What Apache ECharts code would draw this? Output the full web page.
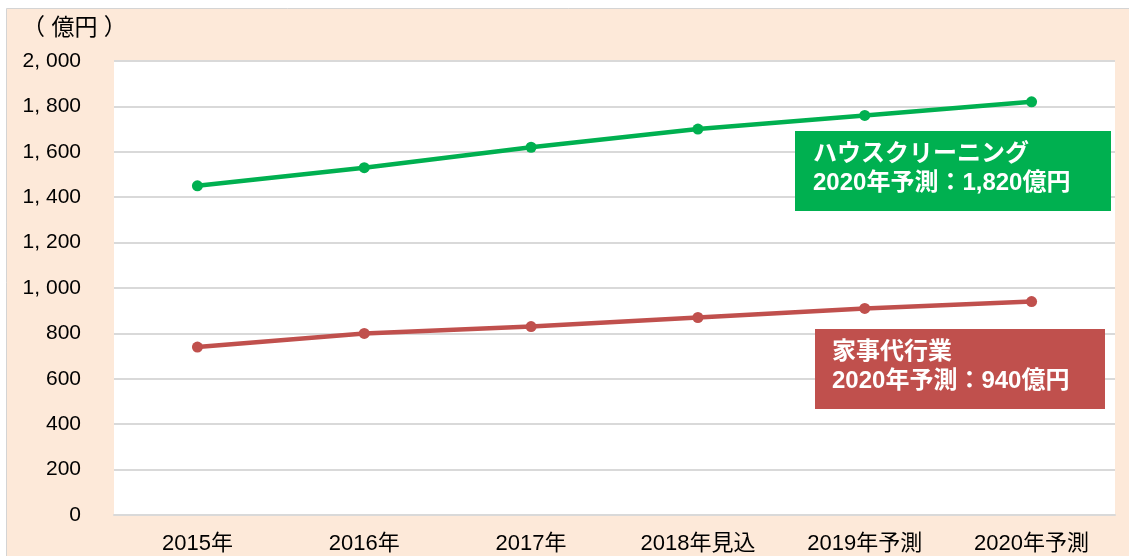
<!DOCTYPE html>
<html>
<head>
<meta charset="utf-8">
<script src="https://cdn.jsdelivr.net/npm/echarts@6/dist/echarts.min.js"></script>
<style>
html,body{margin:0;padding:0;background:#fff;}
#c{width:1129px;height:556px;}
</style>
</head>
<body>
<div id="c"></div>
<script>
const categories = ['2015年', '2016年', '2017年', '2018年見込', '2019年予測', '2020年予測'];
const houseCleaning = [1450, 1530, 1620, 1700, 1760, 1820];
const housework = [740, 800, 830, 870, 910, 940];
const yTicks = [0, 200, 400, 600, 800, 1000, 1200, 1400, 1600, 1800, 2000];
const nameHouseCleaning = 'ハウスクリーニング';
const nameHousework = '家事代行業';
const unitLabel = '（ 億円 ）';

const FONT = '"Liberation Sans", Arial, "Noto Sans CJK JP", sans-serif';
const GREEN = '#00B050';
const RED = '#C0504D';

function fmt(v, sep) {
  const s = String(v);
  if (s.length <= 3) return s;
  return s.slice(0, s.length - 3) + sep + s.slice(s.length - 3);
}

const chart = echarts.init(document.getElementById('c'));
const lastIdx = categories.length - 1;
chart.setOption({
  backgroundColor: '#fff',
  animation: false,
  textStyle: { fontFamily: FONT },
  grid: {
    left: 114, right: 14, top: 61, bottom: 41,
    show: true, backgroundColor: '#fff', borderWidth: 0
  },
  xAxis: {
    type: 'category',
    data: categories,
    boundaryGap: true,
    axisLine: { lineStyle: { color: '#d9d9d9', width: 2 } },
    axisTick: { show: false },
    axisLabel: { color: '#000', fontSize: 22, margin: 18, fontFamily: FONT }
  },
  yAxis: {
    type: 'value',
    min: yTicks[0],
    max: yTicks[yTicks.length - 1],
    interval: yTicks[1] - yTicks[0],
    axisLine: { show: false },
    axisTick: { show: false },
    splitLine: { lineStyle: { color: '#d9d9d9', width: 2 } },
    axisLabel: {
      color: '#000', fontSize: 21, margin: 33, fontFamily: FONT,
      formatter: v => fmt(v, ', ')
    }
  },
  series: [
    {
      name: nameHouseCleaning, type: 'line', data: houseCleaning,
      symbol: 'circle', symbolSize: 11,
      itemStyle: { color: GREEN },
      lineStyle: { color: GREEN, width: 4.5 }
    },
    {
      name: nameHousework, type: 'line', data: housework,
      symbol: 'circle', symbolSize: 11,
      itemStyle: { color: RED },
      lineStyle: { color: RED, width: 4.5 }
    }
  ],
  graphic: [
    {
      type: 'rect', z: -100, silent: true,
      shape: { x: 6.5, y: 8.5, width: 1140, height: 560 },
      style: { fill: '#FDE9D9', stroke: '#d4d4d4', lineWidth: 1 }
    },
    {
      type: 'text', left: 22, top: 17, z: 10,
      style: { text: unitLabel, fontSize: 23, fill: '#000', fontFamily: FONT }
    },
    {
      type: 'rect', z: 100, shape: { x: 795, y: 131, width: 316, height: 80 },
      style: { fill: GREEN }
    },
    {
      type: 'text', z: 101, x: 813, y: 169,
      style: {
        text: nameHouseCleaning + '\n' + categories[lastIdx] + '：' + fmt(houseCleaning[lastIdx], ',') + '億円',
        fontSize: 24, fontWeight: 'bold', fill: '#fff', fontFamily: FONT,
        lineHeight: 29, verticalAlign: 'middle', align: 'left'
      }
    },
    {
      type: 'rect', z: 100, shape: { x: 815, y: 329, width: 290, height: 80 },
      style: { fill: RED }
    },
    {
      type: 'text', z: 101, x: 832, y: 367,
      style: {
        text: nameHousework + '\n' + categories[lastIdx] + '：' + fmt(housework[lastIdx], ',') + '億円',
        fontSize: 24, fontWeight: 'bold', fill: '#fff', fontFamily: FONT,
        lineHeight: 29, verticalAlign: 'middle', align: 'left'
      }
    }
  ]
});
</script>
</body>
</html>
